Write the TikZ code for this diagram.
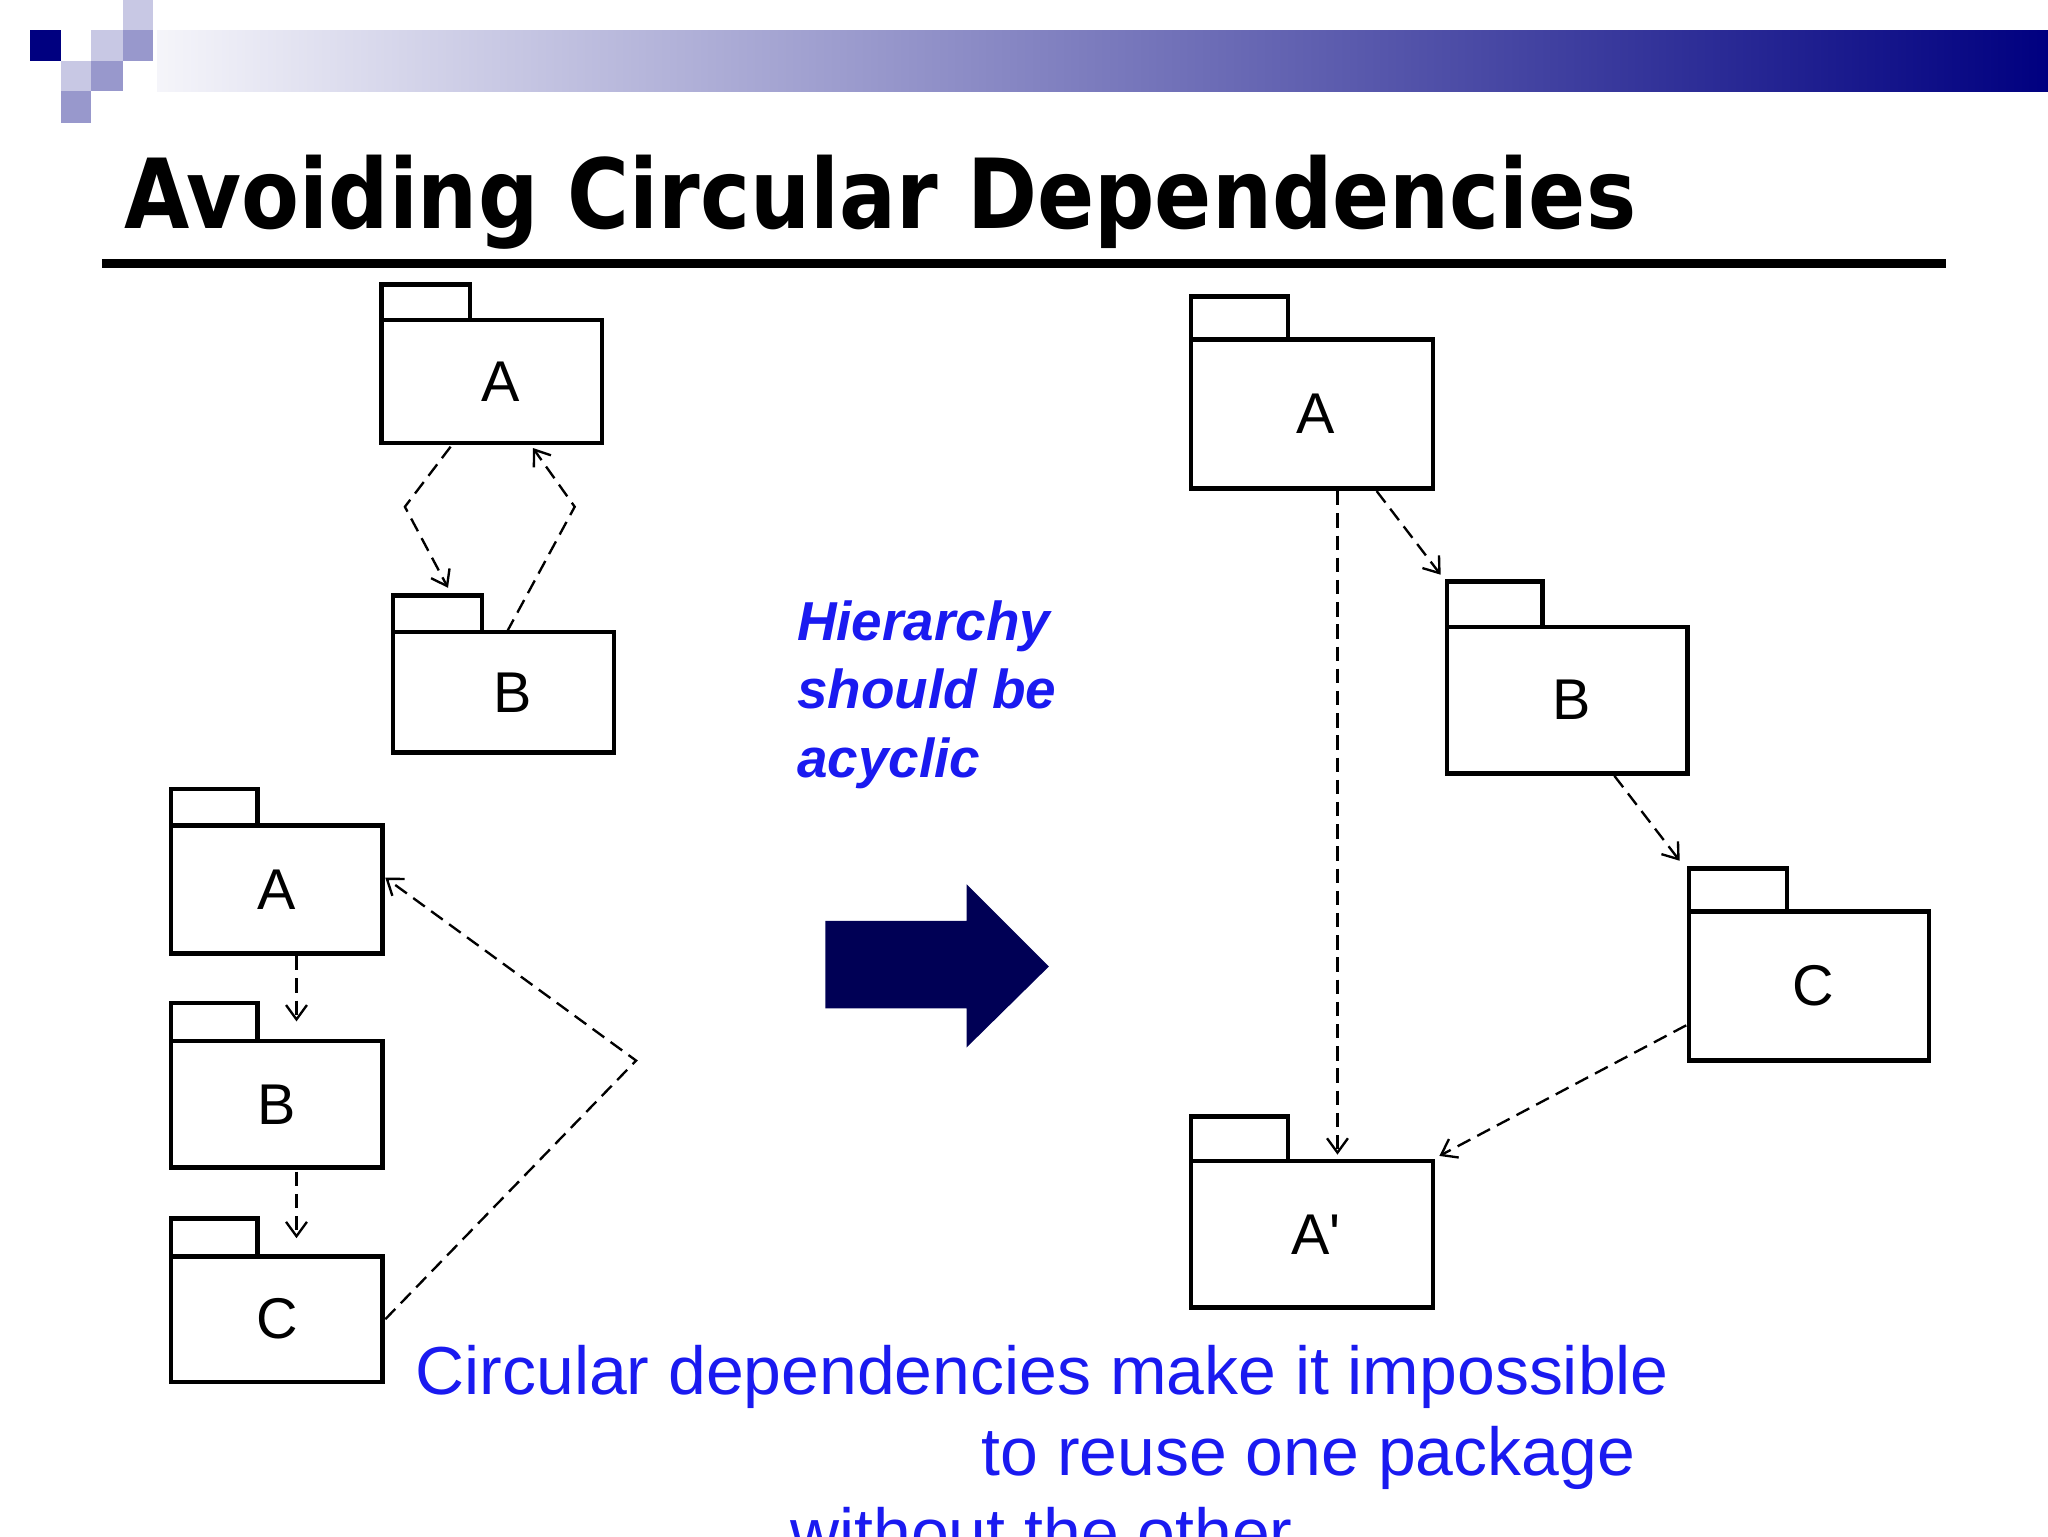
\documentclass[tikz,border=0pt]{standalone}
\usepackage{fontspec}
\setmainfont{Liberation Sans}
\newfontfamily\titlefont{DejaVu Sans}
\usetikzlibrary{arrows.meta,calc}
\definecolor{navy}{HTML}{000080}
\definecolor{arrowblue}{HTML}{000055}
\definecolor{txtblue}{HTML}{1A1AF0}
\definecolor{lav}{HTML}{C8C8E4}
\definecolor{mlav}{HTML}{9898CC}
\tikzset{
  body/.style={draw, line width=3.5pt, minimum width=#1, inner sep=0pt,
    font=\fontsize{44}{44}\selectfont},
  tab/.style={draw, line width=3.5pt},
  dep/.style={draw, line width=1.8pt, dash pattern=on 11pt off 6pt,
    -{Straight Barb[length=11pt,width=16pt,line width=1.8pt]}},
  bigtext/.style={inner sep=0pt, text=txtblue, font=\fontsize{52}{52}\selectfont},
}
\begin{document}
\begin{tikzpicture}[x=1pt,y=-1pt]
\useasboundingbox (0,0) rectangle (1568,1176);
\clip (0,0) rectangle (1568,1176);
% header band and logo
\shade[left color=white, right color=navy] (60,23) rectangle (1568,70);
\fill[white] (0,0) rectangle (120,100);
\fill[lav] (94,0) rectangle (117,23);
\fill[navy] (23,23) rectangle (47,47);
\fill[lav] (70,23) rectangle (94,47);
\fill[mlav] (94,23) rectangle (117,47);
\fill[lav] (47,47) rectangle (70,70);
\fill[mlav] (70,47) rectangle (94,70);
\fill[mlav] (47,70) rectangle (70,94);
% title
\node[anchor=base west, inner sep=0pt, font=\titlefont\bfseries\fontsize{74}{74}\selectfont] (title) at (95,175) {\scalebox{0.873}[1]{Avoiding Circular Dependencies}};
\draw[line width=7pt] (78,202) -- (1490,202);
% left top cycle
\draw[tab] (292,218) rectangle (360,245);
\node[body=169pt, minimum height=94pt, text width=169pt, align=center, xshift=0pt] (la) at (376.5,292) {\hspace*{14pt}A};
\draw[tab] (301,456) rectangle (369,484);
\node[body=169pt, minimum height=92pt] (lb) at (385.5,530) {\hspace*{14pt}B};
\coordinate (la1) at (345,342);
\coordinate (la2) at (408,343);
\coordinate (lb1) at (343,450);
\coordinate (lb2) at (388,484);
\coordinate (m1) at (310,388);
\coordinate (m2) at (440,388);
\draw[dep] (la1) -- (m1) -- (lb1);
\draw[dep] (lb2) -- (m2) -- (la2);
% left bottom chain
\draw[tab] (131,604) rectangle (197,632);
\node[body=162pt, minimum height=98pt] (ca) at (212,681) {A};
\draw[tab] (131,768) rectangle (197,797);
\node[body=162pt, minimum height=97pt] (cb) at (212,845.5) {B};
\draw[tab] (131,933) rectangle (197,962);
\node[body=162pt, minimum height=96pt] (cc) at (212,1010) {C};
\coordinate (ca1) at (227,732);
\coordinate (cb1) at (227,782);
\coordinate (cb2) at (227,897);
\coordinate (cc1) at (227,948);
\coordinate (cc2) at (295,1010);
\coordinate (cm) at (487,812);
\coordinate (ca2) at (295,672);
\draw[dep] (ca1) -- (cb1);
\draw[dep] (cb2) -- (cc1);
\draw[dep] (cc2) -- (cm) -- (ca2);
% hierarchy text
\node[anchor=base west, align=left, inner sep=0pt, text=txtblue,
  font=\bfseries\itshape\fontsize{42}{52.5}\selectfont] (hier) at (610,595)
  {Hierarchy\\should be\\acyclic};
% big arrow
\fill[arrowblue] (632,705) -- (740,705) -- (740,677) -- (803,740) -- (740,802) -- (740,772) -- (632,772) -- cycle;
% right hierarchy
\draw[tab] (912,227) rectangle (986,260);
\node[body=185pt, minimum height=114pt] (ra) at (1004.5,317) {\hspace*{6pt}A};
\draw[tab] (1108,445) rectangle (1181,480);
\node[body=184pt, minimum height=112pt] (rb) at (1200,536) {\hspace*{6pt}B};
\draw[tab] (1293,665) rectangle (1368,698);
\node[body=184pt, minimum height=114pt] (rc) at (1385,755) {\hspace*{6pt}C};
\draw[tab] (912,855) rectangle (986,889);
\node[body=185pt, minimum height=112pt] (rd) at (1004.5,945) {\hspace*{6pt}A\textquotesingle};
\coordinate (ra1) at (1024,376);
\coordinate (rd1) at (1024,884);
\coordinate (ra2) at (1054,376);
\coordinate (rb1) at (1103,440);
\coordinate (rb2) at (1236,594);
\coordinate (rc1) at (1286,659);
\coordinate (rc2) at (1291,785);
\coordinate (rd2) at (1102,885);
\draw[dep] (ra1) -- (rd1);
\draw[dep] (ra2) -- (rb1);
\draw[dep] (rb2) -- (rc1);
\draw[dep] (rc2) -- (rd2);
% bottom text
\node[anchor=base west, bigtext] (t1) at (318,1068) {Circular dependencies make it impossible};
\node[anchor=base east, bigtext] (t2) at (1252,1130) {to reuse one package};
\node[anchor=base west, bigtext] (t3) at (605,1192) {without the other};
\end{tikzpicture}
\end{document}
